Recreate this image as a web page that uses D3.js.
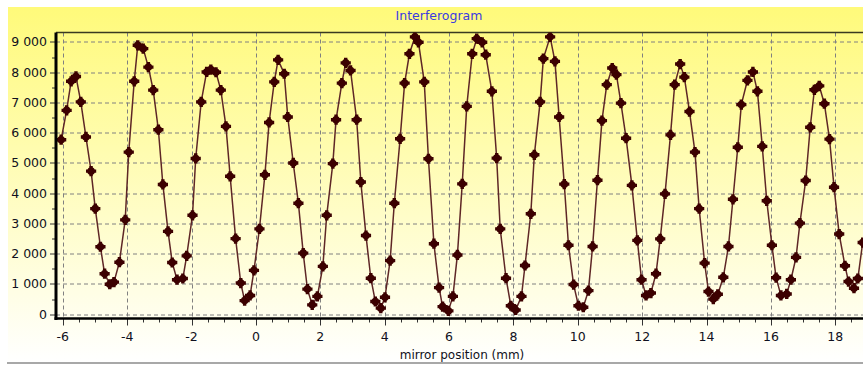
<!DOCTYPE html>
<html>
<head>
<meta charset="utf-8">
<script src="https://cdn.jsdelivr.net/npm/d3@7"></script>
<style>
  html, body { margin: 0; padding: 0; background: #fff; }
  svg { display: block; font-family: "DejaVu Sans", Verdana, sans-serif; }
</style>
</head>
<body>
<div id="chart"></div>
<script>
(function() {
  var width = 863,
      height = 365,
      margin = {top: 32.5, right: 0, bottom: 46.5, left: 56};

  var title = "Interferogram",
      xLabel = "mirror position (mm)";

  // mirror position (mm)
  var positions = [-6.05,-5.88,-5.74,-5.59,-5.44,-5.28,-5.12,-4.99,-4.83,-4.70,
    -4.54,-4.41,-4.24,-4.06,-3.95,-3.78,-3.67,-3.50,-3.34,-3.19,
    -3.03,-2.89,-2.73,-2.60,-2.45,-2.27,-2.15,-1.97,-1.87,-1.70,
    -1.53,-1.40,-1.24,-1.09,-0.93,-0.80,-0.63,-0.47,-0.35,-0.18,
    -0.06,0.11,0.28,0.41,0.57,0.69,0.88,0.99,1.16,1.32,
    1.47,1.60,1.75,1.91,2.08,2.20,2.39,2.49,2.67,2.79,
    2.94,3.13,3.26,3.42,3.57,3.71,3.88,4.01,4.17,4.30,
    4.48,4.62,4.77,4.94,5.05,5.23,5.36,5.53,5.69,5.80,
    5.98,6.12,6.26,6.41,6.55,6.72,6.86,7.03,7.14,7.33,
    7.48,7.59,7.77,7.92,8.07,8.25,8.36,8.54,8.65,8.83,
    8.93,9.14,9.29,9.42,9.58,9.71,9.87,10.02,10.17,10.33,
    10.46,10.61,10.75,10.90,11.07,11.20,11.34,11.50,11.68,11.85,
    11.98,12.12,12.27,12.43,12.56,12.71,12.88,13.01,13.18,13.31,
    13.47,13.64,13.77,13.94,14.06,14.21,14.35,14.52,14.68,14.82,
    14.97,15.08,15.27,15.44,15.58,15.73,15.87,16.03,16.16,16.31,
    16.49,16.62,16.78,16.90,17.08,17.22,17.35,17.50,17.66,17.82,
    17.96,18.12,18.30,18.41,18.58,18.70,18.85];

  // detector signal
  var intensity = [5770,6740,7700,7860,7020,5860,4730,3490,2230,1340,
    990,1060,1720,3120,5360,7700,8890,8780,8170,7410,
    6100,4290,2740,1710,1140,1180,1930,3270,5150,7020,
    8010,8090,8000,7410,6210,4560,2500,1030,450,620,
    1450,2820,4610,6340,7680,8410,7950,6520,5000,3670,
    2020,830,310,590,1580,3270,4980,6430,7640,8310,
    8060,6430,4370,2600,1190,420,200,560,1770,3670,
    5800,7640,8610,9170,8990,7680,5140,2330,880,250,
    110,590,1960,4310,6870,8610,9110,8990,8580,7370,
    5160,2820,1190,280,140,590,1610,3320,5270,7020,
    8450,9170,8360,6520,4300,2280,980,280,230,780,
    2240,4430,6400,7590,8140,7920,6980,5820,4260,2440,
    1140,620,700,1340,2490,3980,5930,7590,8270,7840,
    6700,5360,3490,1690,750,500,660,1220,2240,3800,
    5520,6930,7730,8010,7370,5550,3750,2280,1210,620,
    670,1140,1880,3010,4420,6180,7420,7550,6960,5790,
    4200,2650,1600,1080,860,1180,2370];

  var xTicks = [-6,-4,-2,0,2,4,6,8,10,12,14,16,18];
  var yTicks = [0,1000,2000,3000,4000,5000,6000,7000,8000,9000];

  var data = positions.map(function(p, i) { return {x: p, y: intensity[i]}; });

  var plotW = width - margin.left - margin.right,
      plotH = height - margin.top - margin.bottom;

  var x = d3.scaleLinear()
    .domain([-6.21, 18.86])
    .range([0, plotW]);

  var y = d3.scaleLinear()
    .domain([-142, 9314])
    .range([plotH, 0]);

  var fmt = function(d) { return d3.format(",")(d).replace(/,/g, " "); };

  var svg = d3.select("#chart")
    .append("svg")
    .attr("width", width)
    .attr("height", height);

  var defs = svg.append("defs");
  var grad = defs.append("linearGradient")
    .attr("id", "panelGrad")
    .attr("x1", 0).attr("y1", 0).attr("x2", 0).attr("y2", 1);
  grad.append("stop").attr("offset", "0%").attr("stop-color", "#fffa7a");
  grad.append("stop").attr("offset", "100%").attr("stop-color", "#ffffff");

  defs.append("clipPath")
    .attr("id", "plotClip")
    .append("rect")
    .attr("x", 0).attr("y", 0)
    .attr("width", plotW).attr("height", plotH);

  // panel background
  svg.append("rect")
    .attr("x", 8).attr("y", 7)
    .attr("width", width - 8).attr("height", 355)
    .attr("fill", "url(#panelGrad)");

  svg.append("line")
    .attr("x1", 7).attr("x2", width)
    .attr("y1", 363).attr("y2", 363)
    .attr("stroke", "#a8a8a8")
    .attr("stroke-width", 2);

  svg.append("text")
    .attr("x", 439)
    .attr("y", 20)
    .attr("text-anchor", "middle")
    .attr("font-size", "12.5px")
    .attr("fill", "#3a3ae0")
    .text(title);

  var g = svg.append("g")
    .attr("transform", "translate(" + margin.left + "," + margin.top + ")");

  // grid
  g.append("g").attr("class", "grid")
    .selectAll("line.h")
    .data(yTicks)
    .enter().append("line")
      .attr("x1", 0).attr("x2", plotW)
      .attr("y1", function(d) { return Math.round(y(d)) + 0.5; })
      .attr("y2", function(d) { return Math.round(y(d)) + 0.5; })
      .attr("stroke", "#808080")
      .attr("stroke-dasharray", "4,3");

  g.append("g").attr("class", "grid")
    .selectAll("line.v")
    .data(xTicks)
    .enter().append("line")
      .attr("x1", function(d) { return Math.round(x(d)) + 0.5; })
      .attr("x2", function(d) { return Math.round(x(d)) + 0.5; })
      .attr("y1", 0).attr("y2", plotH)
      .attr("stroke", "#808080")
      .attr("stroke-dasharray", "4,3");

  // top border
  g.append("line")
    .attr("x1", 0).attr("x2", plotW)
    .attr("y1", 0).attr("y2", 0)
    .attr("stroke", "#3a3a20")
    .attr("stroke-width", 1.5);

  // y axis
  var yMinor = d3.range(0, 9500, 500);
  g.append("g")
    .selectAll("line")
    .data(yMinor)
    .enter().append("line")
      .attr("x1", function(d) { return d % 1000 === 0 ? -6 : -4; })
      .attr("x2", 0)
      .attr("y1", function(d) { return Math.round(y(d)) + 0.5; })
      .attr("y2", function(d) { return Math.round(y(d)) + 0.5; })
      .attr("stroke", "#333");

  g.append("g")
    .selectAll("text")
    .data(yTicks)
    .enter().append("text")
      .attr("x", -9)
      .attr("y", function(d) { return y(d); })
      .attr("dy", "0.36em")
      .attr("text-anchor", "end")
      .attr("font-size", "12.5px")
      .attr("fill", "#101020")
      .text(fmt);

  // x axis
  var xMinor = d3.range(-6, 18.6, 0.5);
  g.append("g")
    .selectAll("line")
    .data(xMinor)
    .enter().append("line")
      .attr("x1", function(d) { return Math.round(x(d)) + 0.5; })
      .attr("x2", function(d) { return Math.round(x(d)) + 0.5; })
      .attr("y1", plotH)
      .attr("y2", function(d) { return plotH + (d % 2 === 0 ? 7 : 4); })
      .attr("stroke", "#333");

  g.append("g")
    .selectAll("text")
    .data(xTicks)
    .enter().append("text")
      .attr("x", function(d) { return x(d); })
      .attr("y", plotH + 22.5)
      .attr("text-anchor", "middle")
      .attr("font-size", "12.5px")
      .attr("fill", "#101020")
      .text(function(d) { return d; });

  svg.append("text")
    .attr("x", 462)
    .attr("y", 359)
    .attr("text-anchor", "middle")
    .attr("font-size", "12px")
    .attr("fill", "#101020")
    .text(xLabel);

  // series
  var series = g.append("g").attr("clip-path", "url(#plotClip)");

  var line = d3.line()
    .x(function(d) { return x(d.x); })
    .y(function(d) { return y(d.y); });

  series.append("path")
    .datum(data)
    .attr("d", line)
    .attr("fill", "none")
    .attr("stroke", "#5e2626")
    .attr("stroke-width", 1.5);

  var cross = d3.symbol().type(d3.symbolCross).size(58);

  var marks = series.selectAll("g.pt")
    .data(data)
    .enter().append("g")
      .attr("class", "pt")
      .attr("transform", function(d) { return "translate(" + x(d.x) + "," + y(d.y) + ")"; });

  marks.append("circle")
    .attr("r", 3.8)
    .attr("fill", "#3c0000");

  marks.append("path")
    .attr("d", cross)
    .attr("fill", "#3c0000");

  // axis lines
  g.append("line")
    .attr("x1", 0).attr("x2", 0)
    .attr("y1", 0).attr("y2", plotH + 1.5)
    .attr("stroke", "#000")
    .attr("stroke-width", 3);

  g.append("line")
    .attr("x1", -1.5).attr("x2", plotW)
    .attr("y1", plotH).attr("y2", plotH)
    .attr("stroke", "#000")
    .attr("stroke-width", 2.5);
})();
</script>
</body>
</html>
